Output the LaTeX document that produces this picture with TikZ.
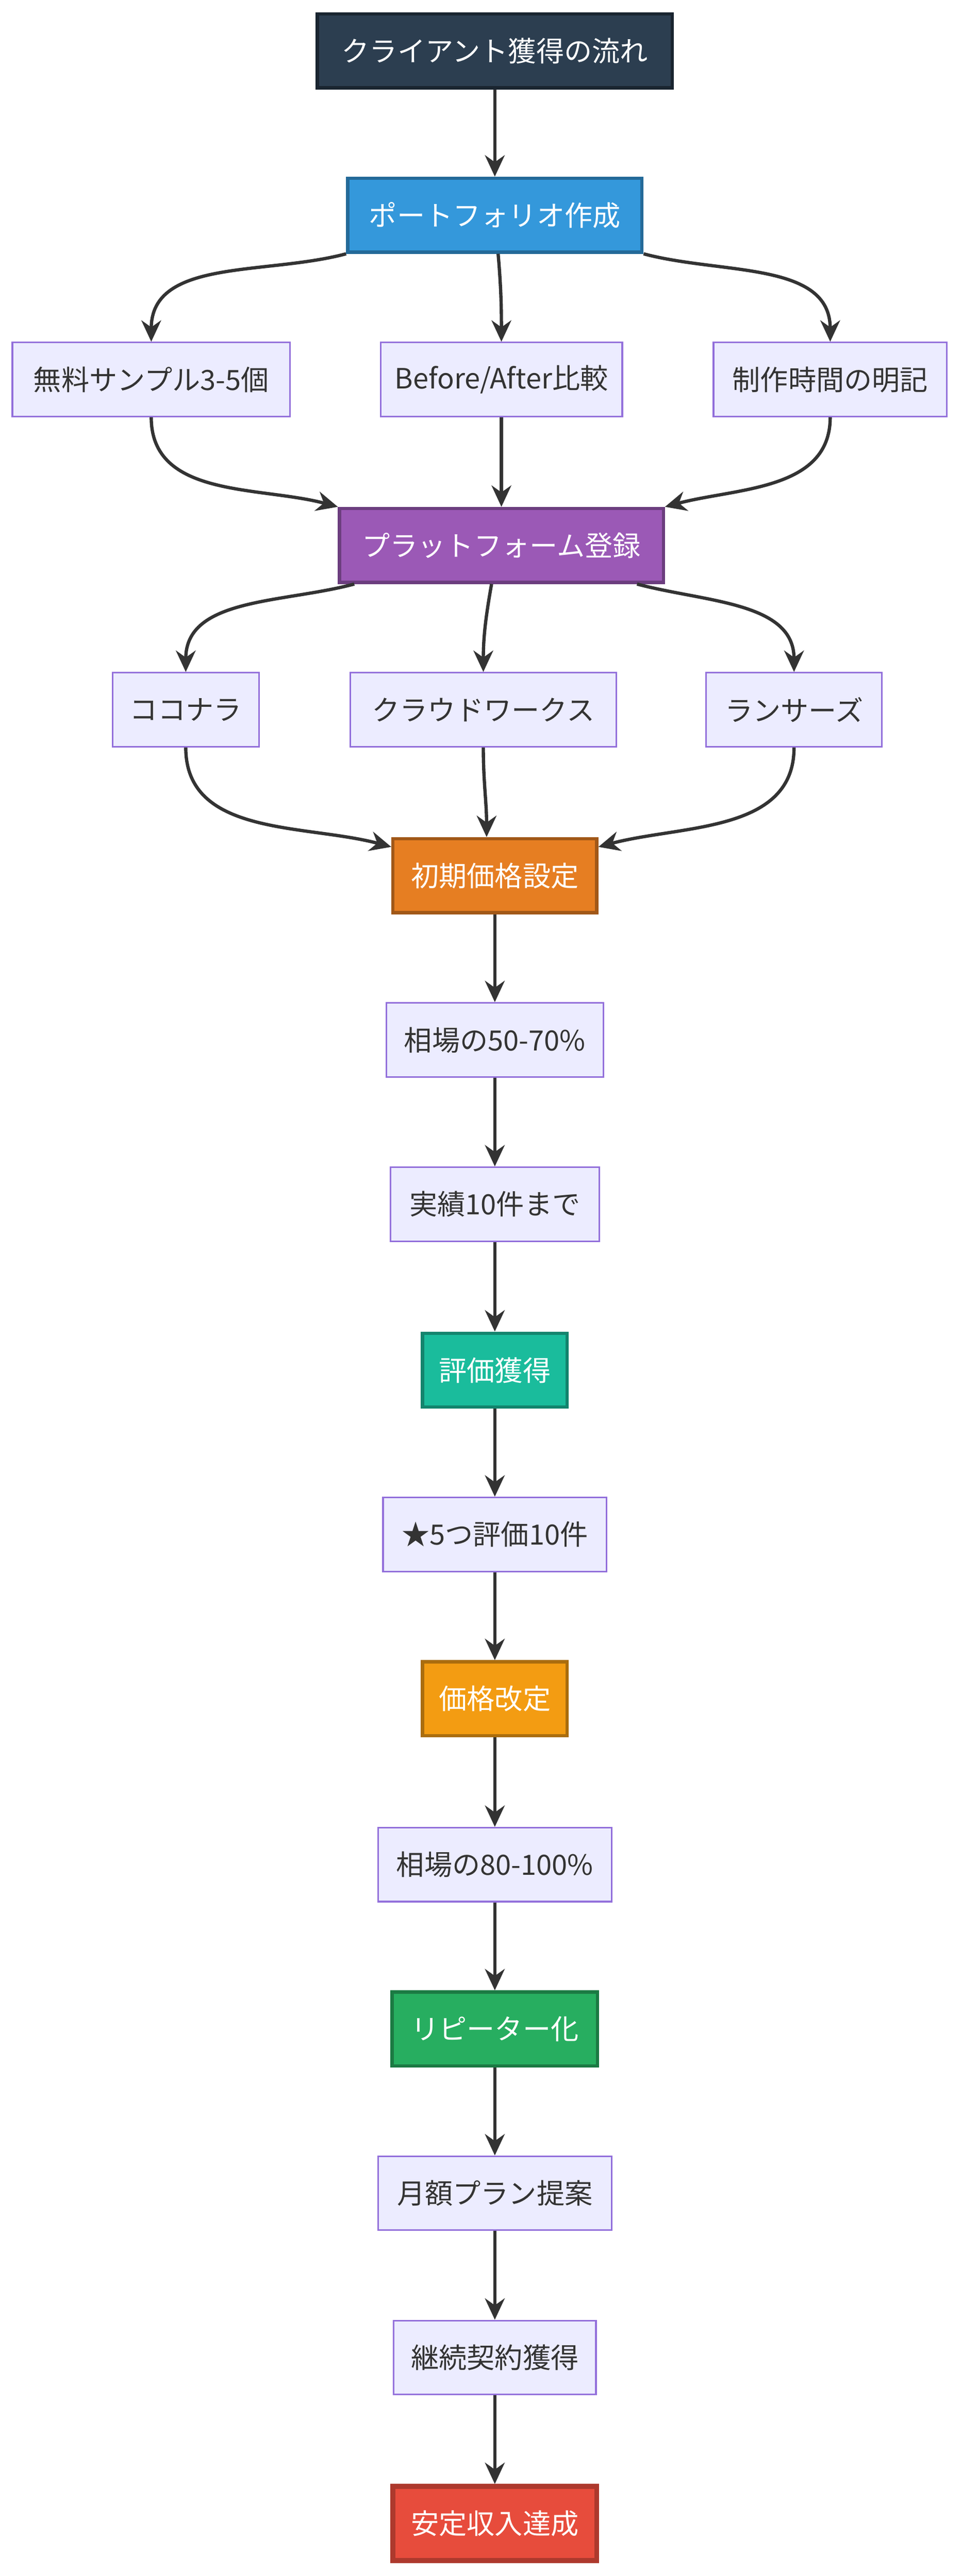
\documentclass[tikz,border=0pt]{standalone}
\usepackage{fontspec}
\setmainfont{Noto Sans CJK JP}
\usetikzlibrary{arrows.meta}
\definecolor{lt}{HTML}{ECECFF}\definecolor{lb}{HTML}{9370DB}
\definecolor{ln}{HTML}{333333}
\begin{document}
\begin{tikzpicture}[x=1pt,y=-1pt,
 box/.style={draw=lb,fill=lt,line width=1pt,minimum height=45pt,inner sep=0pt,text=ln,font=\fontsize{17}{20}\selectfont},
 hb/.style={box,line width=2pt,text=white,draw=#1!70!black,fill=#1},
 e/.style={draw=ln,line width=2pt,-{Stealth[length=13pt,width=12pt]}}]
\useasboundingbox (0,0) rectangle (585,1568);
\definecolor{c1}{HTML}{2C3E50}\definecolor{c2}{HTML}{3498DB}\definecolor{c3}{HTML}{9B59B6}
\definecolor{c4}{HTML}{E67E22}\definecolor{c5}{HTML}{1ABC9C}\definecolor{c6}{HTML}{F39C12}
\definecolor{c7}{HTML}{27AE60}\definecolor{c8}{HTML}{E74C3C}
\node[hb=c1,minimum width=216pt,draw=c1!60!black] (t) at (301,31) {クライアント獲得の流れ};
\node[hb=c2,minimum width=179pt] (pf) at (301,131) {ポートフォリオ作成};
\node[box,minimum width=169pt] (a) at (92,231) {無料サンプル3-5個};
\node[box,minimum width=147pt] (b) at (305,231) {Before/After比較};
\node[box,minimum width=142pt] (c) at (505,231) {制作時間の明記};
\node[hb=c3,minimum width=197pt] (pl) at (305,332) {プラットフォーム登録};
\node[box,minimum width=89pt] (k) at (113,432) {ココナラ};
\node[box,minimum width=162pt] (w) at (294,432) {クラウドワークス};
\node[box,minimum width=107pt] (l) at (483,432) {ランサーズ};
\node[hb=c4,minimum width=124pt] (s) at (301,533) {初期価格設定};
\node[box,minimum width=132pt] (m1) at (301,633) {相場の50-70\%};
\node[box,minimum width=127pt] (m2) at (301,733) {実績10件まで};
\node[hb=c5,minimum width=88pt] (r) at (301,834) {評価獲得};
\node[box,minimum width=136pt] (m3) at (301,934) {★5つ評価10件};
\node[hb=c6,minimum width=88pt] (p) at (301,1034) {価格改定};
\node[box,minimum width=142pt] (m4) at (301,1135) {相場の80-100\%};
\node[hb=c7,minimum width=125pt] (rp) at (301,1235) {リピーター化};
\node[box,minimum width=142pt] (m5) at (301,1335) {月額プラン提案};
\node[box,minimum width=123pt] (m6) at (301,1435) {継続契約獲得};
\node[hb=c8,minimum width=124pt,line width=3pt,draw=c8!75!black] (z) at (301,1536) {安定収入達成};
\draw[e] (t) -- (pf);
\draw[e] (pf.south west) to[out=-165,in=90] (a.north);
\draw[e] (pf.south) ++(2,0) to[out=-85,in=90] (b.north);
\draw[e] (pf.south east) to[out=-15,in=90] (c.north);
\draw[e] (a.south) to[out=-90,in=165] (pl.north west);
\draw[e] (b) -- (pl);
\draw[e] (c.south) to[out=-90,in=15] (pl.north east);
\draw[e] (pl.south west) ++(10,0) to[out=-165,in=90] (k.north);
\draw[e] (pl.south) ++(-6,0) to[out=-100,in=90] (w.north);
\draw[e] (pl.south east) ++(-17,0) to[out=-15,in=90] (l.north);
\draw[e] (k.south) to[out=-90,in=165] ([yshift=-6pt]s.north west);
\draw[e] (w.south) to[out=-90,in=90] ([xshift=-5pt]s.north);
\draw[e] (l.south) to[out=-90,in=15] ([yshift=-6pt]s.north east);
\draw[e] (s)--(m1); \draw[e] (m1)--(m2); \draw[e] (m2)--(r); \draw[e] (r)--(m3);
\draw[e] (m3)--(p); \draw[e] (p)--(m4); \draw[e] (m4)--(rp); \draw[e] (rp)--(m5);
\draw[e] (m5)--(m6); \draw[e] (m6)--(z);
\end{tikzpicture}
\end{document}
